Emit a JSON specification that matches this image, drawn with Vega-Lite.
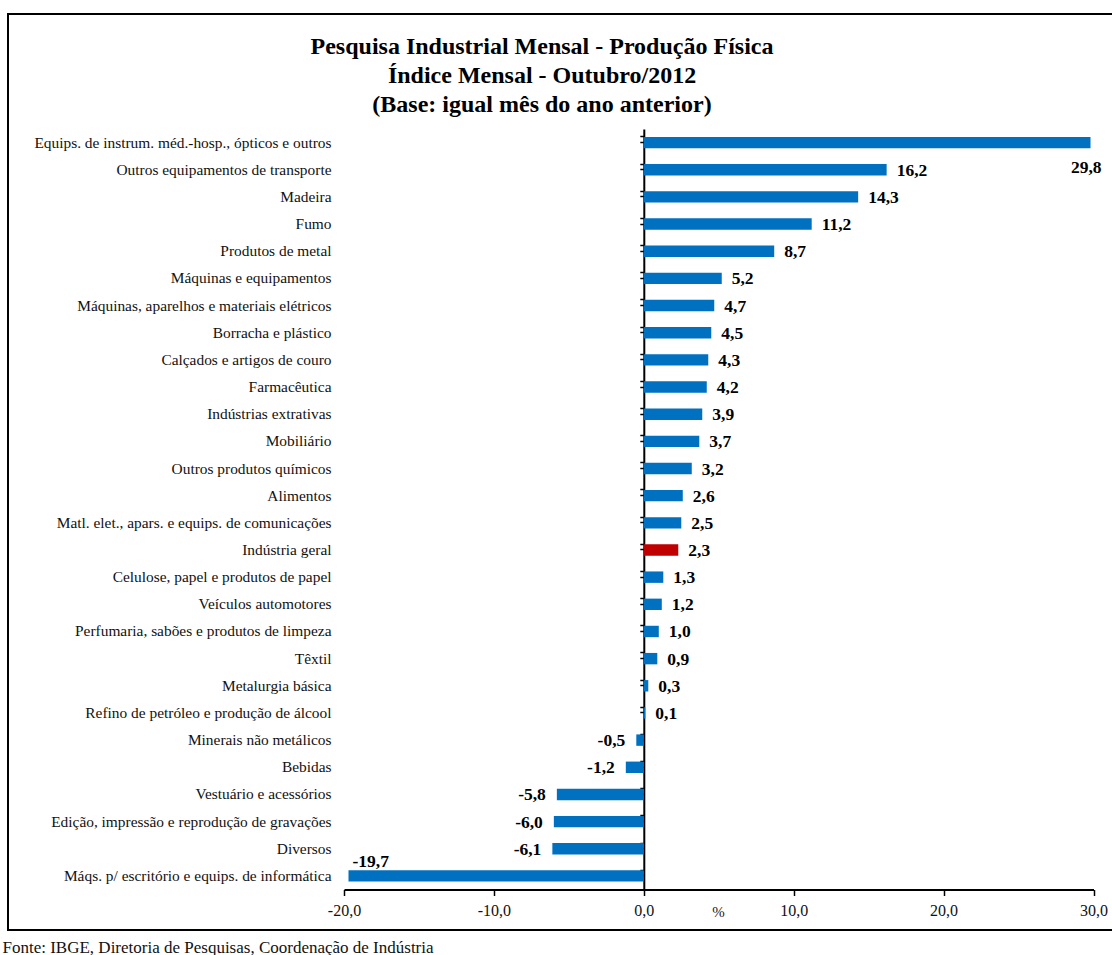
{
  "$schema": "https://vega.github.io/schema/vega-lite/v6.json",
  "width": 1108,
  "height": 916,
  "autosize": {"type": "none"},
  "padding": {"left": 8, "top": 14, "right": -4, "bottom": 25},
  "background": "white",
  "config": {
    "view": {"stroke": "black", "strokeWidth": 2},
    "locale": {"number": {"decimal": ",", "thousands": ".", "grouping": [3], "currency": ["R$", ""], "minus": "-"}},
    "font": "Liberation Serif"
  },
  "title": {
    "text": ["Pesquisa Industrial Mensal - Produção Física", "Índice Mensal - Outubro/2012", "(Base: igual mês do ano anterior)"],
    "font": "Liberation Serif",
    "fontSize": 24,
    "fontWeight": "bold",
    "color": "black",
    "lineHeight": 29,
    "anchor": "start",
    "frame": "group",
    "dx": 534,
    "align": "center",
    "offset": -103
  },
  "data": {
    "values": [
      {"setor": "Equips. de instrum. méd.-hosp., ópticos e outros", "valor": 29.8},
      {"setor": "Outros equipamentos de transporte", "valor": 16.2},
      {"setor": "Madeira", "valor": 14.3},
      {"setor": "Fumo", "valor": 11.2},
      {"setor": "Produtos de metal", "valor": 8.7},
      {"setor": "Máquinas e equipamentos", "valor": 5.2},
      {"setor": "Máquinas, aparelhos e materiais elétricos", "valor": 4.7},
      {"setor": "Borracha e plástico", "valor": 4.5},
      {"setor": "Calçados e artigos de couro", "valor": 4.3},
      {"setor": "Farmacêutica", "valor": 4.2},
      {"setor": "Indústrias extrativas", "valor": 3.9},
      {"setor": "Mobiliário", "valor": 3.7},
      {"setor": "Outros produtos químicos", "valor": 3.2},
      {"setor": "Alimentos", "valor": 2.6},
      {"setor": "Matl. elet., apars. e equips. de comunicações", "valor": 2.5},
      {"setor": "Indústria geral", "valor": 2.3},
      {"setor": "Celulose, papel e produtos de papel", "valor": 1.3},
      {"setor": "Veículos automotores", "valor": 1.2},
      {"setor": "Perfumaria, sabões e produtos de limpeza", "valor": 1.0},
      {"setor": "Têxtil", "valor": 0.9},
      {"setor": "Metalurgia básica", "valor": 0.3},
      {"setor": "Refino de petróleo e produção de álcool", "valor": 0.1},
      {"setor": "Minerais não metálicos", "valor": -0.5},
      {"setor": "Bebidas", "valor": -1.2},
      {"setor": "Vestuário e acessórios", "valor": -5.8},
      {"setor": "Edição, impressão e reprodução de gravações", "valor": -6.0},
      {"setor": "Diversos", "valor": -6.1},
      {"setor": "Máqs. p/ escritório e equips. de informática", "valor": -19.7}
    ]
  },
  "resolve": {"axis": {"x": "independent", "y": "independent"}},
  "layer": [
    {
      "mark": {"type": "bar"},
      "encoding": {
        "y": {
          "field": "setor", "type": "nominal", "sort": null,
          "scale": {"range": [115, 875.5], "paddingInner": 0.58, "paddingOuter": 0.29},
          "axis": {"orient": "left", "offset": -323, "title": null, "ticks": false, "tickSize": 0, "domain": false, "labelPadding": 0, "labelFont": "Liberation Serif", "labelFontSize": 15.4, "labelColor": "#111", "labelLimit": 400, "grid": false}
        },
        "x": {
          "field": "valor", "type": "quantitative",
          "scale": {"domain": [-20, 30], "range": [336, 1085.5], "nice": false, "zero": false},
          "axis": {"orient": "bottom", "offset": -40.5, "values": [-20, -10, 0, 10, 20, 30], "format": ".1f", "labelFlush": false, "labelOverlap": false, "grid": false, "domainColor": "black", "domainWidth": 2, "tickColor": "black", "tickWidth": 1.5, "tickSize": 6, "labelFont": "Liberation Serif", "labelFontSize": 16, "labelColor": "#111", "labelPadding": 7, "title": "%", "titleX": 710, "titleY": 22, "titleBaseline": "middle", "titleAlign": "center", "titleFont": "Liberation Serif", "titleFontSize": 15, "titleFontWeight": "normal", "titleColor": "#222"}
        },
        "color": {
          "condition": {"test": "datum.setor === 'Indústria geral'", "value": "#C00000"},
          "value": "#0070C0"
        }
      }
    },
    {
      "transform": [{"filter": "datum.valor >= 0 && datum.valor < 20"}],
      "mark": {"type": "text", "align": "left", "baseline": "middle", "dx": 10, "dy": 1, "font": "Liberation Serif", "fontSize": 17.5, "fontWeight": "bold", "color": "black"},
      "encoding": {
        "y": {
          "field": "setor", "type": "nominal", "sort": null,
          "axis": {"orient": "left", "offset": -635.8, "title": null, "labels": false, "ticks": true, "tickSize": 4, "tickWidth": 1.5, "tickColor": "black", "domain": true, "domainColor": "black", "domainWidth": 2, "grid": false}
        },
        "x": {
          "field": "valor", "type": "quantitative",
          "axis": {"orient": "bottom", "offset": 0, "domain": false, "ticks": false, "labels": false, "grid": false, "title": "Fonte: IBGE, Diretoria de Pesquisas, Coordenação de Indústria", "titleX": -6, "titleY": 17, "titleAlign": "left", "titleAnchor": "start", "titleBaseline": "middle", "titleFont": "Liberation Serif", "titleFontSize": 17, "titleFontWeight": "normal", "titleColor": "#111"}
        },
        "text": {"field": "valor", "type": "quantitative", "format": ".1f"}
      }
    },
    {
      "transform": [{"filter": "datum.valor < 0 && datum.valor > -19"}],
      "mark": {"type": "text", "align": "right", "baseline": "middle", "dx": -11, "dy": 1, "font": "Liberation Serif", "fontSize": 17.5, "fontWeight": "bold", "color": "black"},
      "encoding": {
        "y": {
          "field": "setor", "type": "nominal", "sort": null,
          "axis": {"orient": "left", "offset": -635.8, "title": null, "labels": false, "ticks": true, "bandPosition": 0, "tickSize": 4, "tickWidth": 1.5, "tickColor": "black", "domain": false, "grid": false}
        },
        "x": {"field": "valor", "type": "quantitative", "axis": null},
        "text": {"field": "valor", "type": "quantitative", "format": ".1f"}
      }
    },
    {
      "transform": [{"filter": "datum.valor >= 20"}],
      "mark": {"type": "text", "align": "right", "baseline": "middle", "dx": 11, "dy": 25, "font": "Liberation Serif", "fontSize": 17.5, "fontWeight": "bold", "color": "black"},
      "encoding": {
        "y": {"field": "setor", "type": "nominal", "sort": null, "axis": null},
        "x": {"field": "valor", "type": "quantitative", "axis": null},
        "text": {"field": "valor", "type": "quantitative", "format": ".1f"}
      }
    },
    {
      "transform": [{"filter": "datum.valor <= -19"}],
      "mark": {"type": "text", "align": "left", "baseline": "middle", "dx": 4, "dy": -14, "font": "Liberation Serif", "fontSize": 17.5, "fontWeight": "bold", "color": "black"},
      "encoding": {
        "y": {"field": "setor", "type": "nominal", "sort": null, "axis": null},
        "x": {"field": "valor", "type": "quantitative", "axis": null},
        "text": {"field": "valor", "type": "quantitative", "format": ".1f"}
      }
    }
  ]
}
